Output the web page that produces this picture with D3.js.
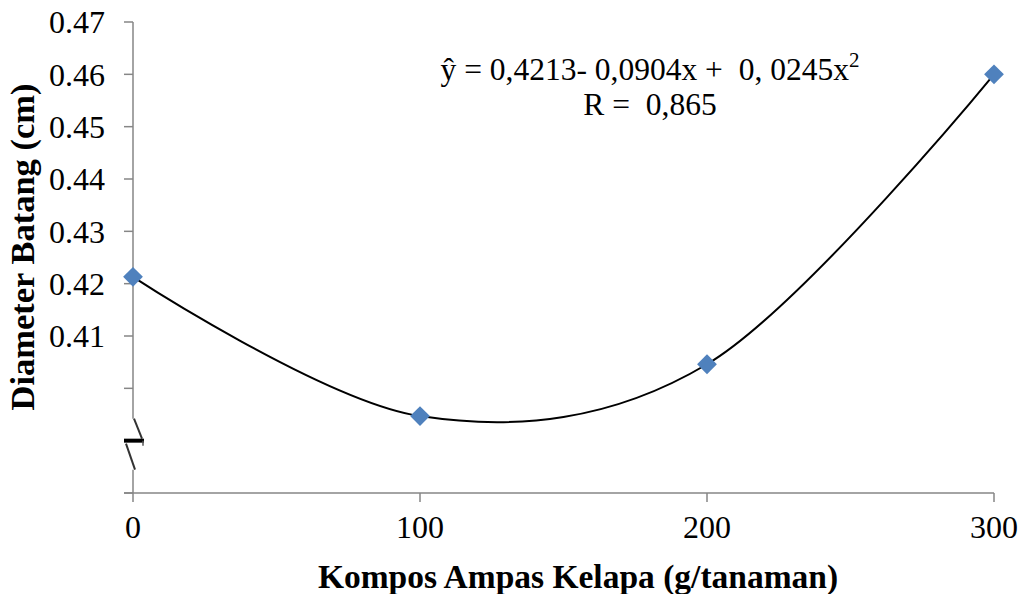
<!DOCTYPE html>
<html>
<head>
<meta charset="utf-8">
<script src="https://cdn.jsdelivr.net/npm/d3@7"></script>
<style>
  html, body { margin: 0; padding: 0; background: #fff; }
  svg { display: block; font-family: "Liberation Serif", "Times New Roman", serif; }
</style>
</head>
<body>
<svg id="chart" width="1024" height="594"></svg>
<script>
// ---- data ----
const xValues = [0, 100, 200, 300];
const yValues = [0.4213, 0.3947, 0.4046, 0.4600];
const xTickValues = [0, 100, 200, 300];
const yTickValues = [0.38, 0.40, 0.41, 0.42, 0.43, 0.44, 0.45, 0.46, 0.47];
const yTickLabels = ["", "", "0.41", "0.42", "0.43", "0.44", "0.45", "0.46", "0.47"];
const yDomain = [0.38, 0.47];
const xDomain = [0, 300];
const breakValue = 0.39;
const equationLine1 = "ŷ = 0,4213- 0,0904x +  0, 0245x";
const equationSup = "2";
const equationLine2 = "R =  0,865";
const xTitle = "Kompos Ampas Kelapa (g/tanaman)";
const yTitle = "Diameter Batang (cm)";

// ---- layout ----
const svg = d3.select("#chart");
const plot = { left: 133, right: 994, top: 22, bottom: 493 };
const x = d3.scaleLinear().domain(xDomain).range([plot.left, plot.right]);
const y = d3.scaleLinear().domain(yDomain).range([plot.bottom, plot.top]);
const axisColor = "#868686";

// y axis line with break
const yb = y(breakValue);
svg.append("line").attr("x1", plot.left).attr("x2", plot.left)
  .attr("y1", plot.top).attr("y2", yb - 22)
  .attr("stroke", axisColor).attr("stroke-width", 1.5);
svg.append("line").attr("x1", plot.left).attr("x2", plot.left)
  .attr("y1", yb + 29).attr("y2", plot.bottom)
  .attr("stroke", axisColor).attr("stroke-width", 1.5);
// break symbol
const brk = svg.append("g").attr("stroke", "#333").attr("fill", "none");
brk.append("line").attr("x1", plot.left + 1).attr("y1", yb - 22)
  .attr("x2", plot.left + 9).attr("y2", yb - 2).attr("stroke-width", 2);
brk.append("line").attr("x1", plot.left - 7).attr("y1", yb + 3)
  .attr("x2", plot.left + 2).attr("y2", yb + 29).attr("stroke-width", 2);
brk.append("line").attr("x1", plot.left - 9).attr("y1", yb)
  .attr("x2", plot.left + 11).attr("y2", yb).attr("stroke", "#000").attr("stroke-width", 4);
brk.append("line").attr("x1", plot.left + 10).attr("y1", yb)
  .attr("x2", plot.left + 10).attr("y2", yb + 5).attr("stroke", "#555").attr("stroke-width", 1.5);

// y ticks + labels
const yTicks = svg.append("g");
yTickValues.forEach((v, i) => {
  yTicks.append("line").attr("x1", plot.left - 9).attr("x2", plot.left)
    .attr("y1", y(v)).attr("y2", y(v))
    .attr("stroke", axisColor).attr("stroke-width", 1.5);
  if (yTickLabels[i]) {
    yTicks.append("text").attr("x", 105).attr("y", y(v))
      .attr("dy", "0.35em").attr("text-anchor", "end")
      .attr("font-size", 32).attr("fill", "#000").text(yTickLabels[i]);
  }
});

// x axis
svg.append("line").attr("x1", plot.left - 9).attr("x2", plot.right)
  .attr("y1", plot.bottom).attr("y2", plot.bottom)
  .attr("stroke", axisColor).attr("stroke-width", 1.5);
xTickValues.forEach(v => {
  svg.append("line").attr("x1", x(v)).attr("x2", x(v))
    .attr("y1", plot.bottom).attr("y2", plot.bottom + 9)
    .attr("stroke", axisColor).attr("stroke-width", 1.5);
  svg.append("text").attr("x", x(v)).attr("y", 538)
    .attr("text-anchor", "middle").attr("font-size", 32).attr("fill", "#000")
    .text(v);
});

// trend curve through the points
const pts = xValues.map((v, i) => [x(v), y(yValues[i])]);
svg.append("path").attr("d", d3.line().curve(d3.curveCardinal.tension(0))(pts))
  .attr("fill", "none").attr("stroke", "#000").attr("stroke-width", 2);

// markers
svg.append("g").selectAll("path").data(pts).join("path")
  .attr("d", d3.symbol(d3.symbolSquare, 196)())
  .attr("transform", d => `translate(${d[0]},${d[1]}) rotate(45)`)
  .attr("fill", "#4F81BD");

// equation
const eq = svg.append("text").attr("x", 650).attr("y", 80)
  .attr("text-anchor", "middle").attr("font-size", 31.5).attr("fill", "#000")
  .style("white-space", "pre");
eq.append("tspan").text(equationLine1);
eq.append("tspan").attr("dy", -13).attr("font-size", 21).text(equationSup);
svg.append("text").attr("x", 650).attr("y", 115)
  .attr("text-anchor", "middle").attr("font-size", 31.5).attr("fill", "#000")
  .style("white-space", "pre").text(equationLine2);

// axis titles
svg.append("text").attr("x", 578).attr("y", 588)
  .attr("text-anchor", "middle").attr("font-size", 33.5).attr("font-weight", "bold")
  .attr("fill", "#000").text(xTitle);
svg.append("text").attr("transform", "translate(34,247) rotate(-90)")
  .attr("text-anchor", "middle").attr("font-size", 34.5).attr("font-weight", "bold")
  .attr("fill", "#000").text(yTitle);
</script>
</body>
</html>
